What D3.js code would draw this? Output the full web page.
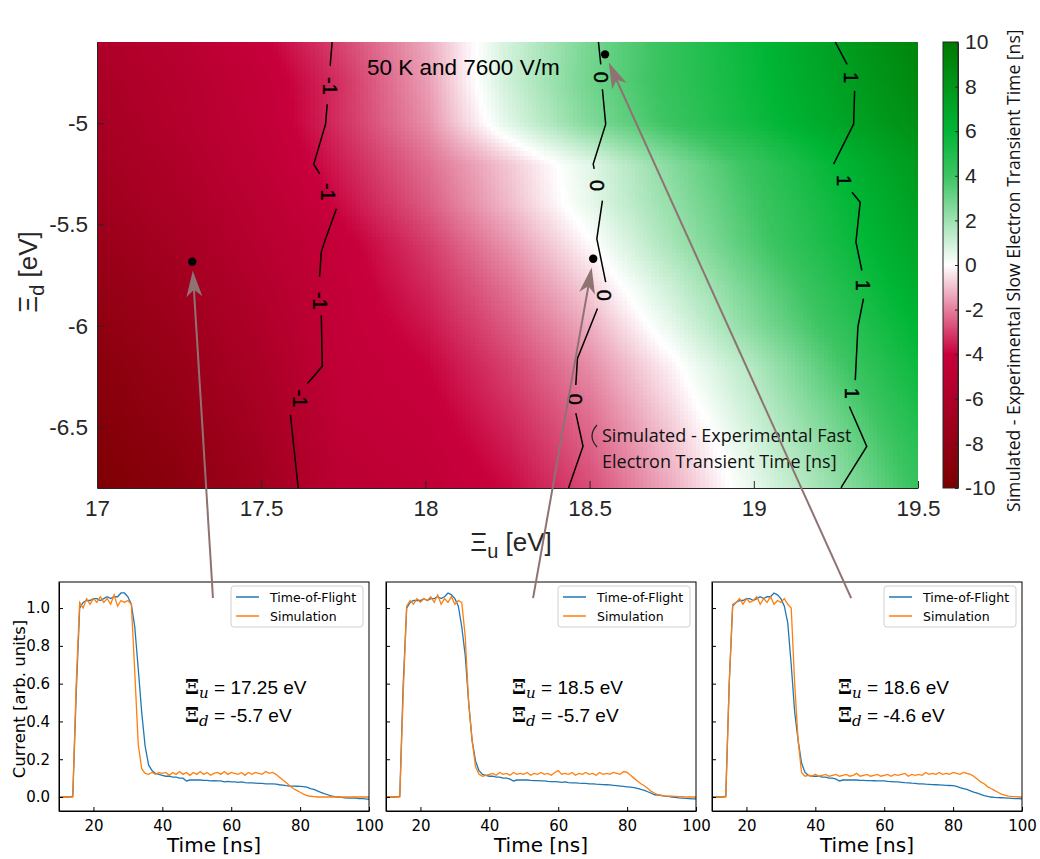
<!DOCTYPE html>
<html lang="en">
  <head>
    <meta charset="utf-8">
    <title>Transient time difference map</title>
    <script src="https://d3js.org/d3.v7.min.js"></script>
    <style>
      body { margin: 0; background: #fff; }
    </style>
  </head>
  <body>
  <script>

// ---- heat map data (simulated - experimental slow electron transient time, ns)
  var xiU = [17, 17.25, 17.5, 17.75, 18, 18.25, 18.5, 18.75, 19, 19.25, 19.5];
  var xiD = [-4.6, -4.8, -5.0, -5.2, -5.4, -5.6, -5.8, -6.0, -6.2, -6.4, -6.6, -6.8];
  var slowDiff = [
    [-6.0, -5.2, -4.1, -2.9, -1.4,  0.9,  2.8,  4.3,  5.8,  7.5,  9.2],
    [-6.3, -5.5, -4.4, -3.2, -1.6,  1.0,  2.9,  4.3,  5.7,  7.3,  8.9],
    [-6.6, -5.6, -4.5, -3.2, -1.8,  0.6,  2.6,  4.1,  5.5,  7.0,  8.5],
    [-6.9, -5.9, -4.7, -3.5, -2.3, -0.9,  0.6,  2.5,  4.2,  6.0,  7.8],
    [-7.2, -6.2, -5.0, -3.8, -2.6, -1.1,  0.5,  2.2,  3.9,  5.6,  7.4],
    [-7.6, -6.6, -5.3, -4.2, -3.1, -1.7, -0.1,  1.8,  3.6,  5.3,  7.0],
    [-8.0, -7.0, -5.6, -4.3, -3.4, -2.2, -0.7,  1.1,  3.0,  4.8,  6.6],
    [-8.4, -7.3, -5.9, -4.4, -3.7, -2.6, -1.3,  0.5,  2.5,  4.3,  6.1],
    [-8.8, -7.7, -6.2, -4.5, -4.0, -3.0, -1.8, -0.2,  1.6,  3.7,  5.6],
    [-9.1, -8.0, -6.5, -4.6, -4.2, -3.3, -2.2, -0.6,  1.2,  3.1,  5.1],
    [-9.4, -8.4, -6.8, -4.8, -4.4, -3.6, -2.5, -1.0,  0.8,  2.6,  4.6],
    [-9.7, -8.7, -7.0, -5.0, -4.6, -3.9, -2.8, -1.3,  0.5,  2.2,  4.2]
  ];

  var uTicks = [17, 17.5, 18, 18.5, 19, 19.5];
  var dTicks = [-6.5, -6, -5.5, -5];
  var cbTicks = [-10, -8, -6, -4, -2, 0, 2, 4, 6, 8, 10];

// fast electron contour lines, split where the inline labels sit
  var contourLines = [
    [[17.716, -4.6], [17.710, -4.718]],
    [[17.701, -4.907], [17.696, -5.005], [17.660, -5.202], [17.678, -5.251]],
    [[17.729, -5.423], [17.693, -5.585], [17.683, -5.635], [17.678, -5.757]],
    [[17.683, -5.948], [17.686, -6.200], [17.641, -6.284]],
    [[17.589, -6.440], [17.612, -6.790], [17.613, -6.8]],

    [[18.527, -4.6], [18.534, -4.710]],
    [[18.539, -4.833], [18.549, -5.005], [18.511, -5.202], [18.514, -5.226]],
    [[18.539, -5.382], [18.522, -5.571], [18.549, -5.784]],
    [[18.524, -5.915], [18.463, -6.161], [18.458, -6.292]],
    [[18.458, -6.431], [18.480, -6.594], [18.438, -6.790], [18.436, -6.8]],

    [[19.248, -4.6], [19.284, -4.710]],
    [[19.307, -4.841], [19.304, -5.005], [19.243, -5.202]],
    [[19.299, -5.341], [19.324, -5.390], [19.311, -5.586], [19.329, -5.727]],
    [[19.334, -5.866], [19.317, -6.005], [19.309, -6.268]],
    [[19.291, -6.398], [19.344, -6.595], [19.268, -6.792], [19.266, -6.8]]
  ];
  var contourLabels = [
    {u: 17.708, d: -4.817, t: "-1"}, {u: 17.702, d: -5.339, t: "-1"},
    {u: 17.678, d: -5.876, t: "-1"}, {u: 17.619, d: -6.358, t: "-1"},
    {u: 18.534, d: -4.774, t: "0"},  {u: 18.524, d: -5.308, t: "0"},
    {u: 18.544, d: -5.849, t: "0"},  {u: 18.456, d: -6.363, t: "0"},
    {u: 19.297, d: -4.775, t: "1"},  {u: 19.274, d: -5.284, t: "1"},
    {u: 19.334, d: -5.800, t: "1"},  {u: 19.299, d: -6.333, t: "1"}
  ];

  var markedPoints = [[17.29, -5.684], [18.511, -5.669], [18.547, -4.661]];

// ---- transient data
  var timeNs = [10, 11, 12, 13, 14, 15, 16, 17, 18, 19,
    20, 21, 22, 23, 24, 25, 26, 27, 28, 29,
    30, 31, 32, 33, 34, 35, 36, 37, 38, 39,
    40, 41, 42, 43, 44, 45, 46, 47, 48, 49,
    50, 51, 52, 53, 54, 55, 56, 57, 58, 59,
    60, 61, 62, 63, 64, 65, 66, 67, 68, 69,
    70, 71, 72, 73, 74, 75, 76, 77, 78, 79,
    80, 81, 82, 83, 84, 85, 86, 87, 88, 89,
    90, 91, 92, 93, 94, 95, 96, 97, 98, 99,
    100];

  var tof1 = [0, 0, 0, 0, 0.005, 0.55, 1.0, 1.03, 1.04, 1.04,
    1.05, 1.05, 1.04, 1.05, 1.06, 1.05, 1.06, 1.06, 1.08, 1.08,
    1.06, 1.02, 0.9, 0.68, 0.45, 0.27, 0.17, 0.14, 0.125, 0.12,
    0.115, 0.11, 0.11, 0.105, 0.105, 0.1, 0.1, 0.085, 0.09, 0.09,
    0.09, 0.09, 0.088, 0.088, 0.085, 0.087, 0.085, 0.085, 0.08, 0.083,
    0.08, 0.08, 0.078, 0.08, 0.076, 0.075, 0.075, 0.074, 0.072, 0.072,
    0.07, 0.07, 0.07, 0.068, 0.065, 0.063, 0.06, 0.058, 0.058, 0.057,
    0.056, 0.055, 0.052, 0.045, 0.04, 0.033, 0.025, 0.018, 0.012, 0.006,
    0.002, 0, -0.002, -0.004, -0.006, -0.006, -0.005, -0.008, -0.008, -0.01,
    -0.012];
  var sim1 = [0, 0, 0, 0, 0, 0.6, 1.03, 1.0, 1.05, 1.02,
    1.05, 1.03, 1.06, 1.03, 1.05, 1.02, 1.07, 1.01, 1.04, 1.03,
    1.04, 1.02, 0.66, 0.28, 0.15, 0.125, 0.12, 0.13, 0.12, 0.13,
    0.125, 0.13, 0.115, 0.13, 0.12, 0.135, 0.12, 0.13, 0.115, 0.13,
    0.12, 0.135, 0.12, 0.13, 0.115, 0.125, 0.13, 0.12, 0.135, 0.12,
    0.13, 0.125, 0.12, 0.13, 0.115, 0.13, 0.12, 0.13, 0.125, 0.12,
    0.135, 0.125, 0.13, 0.12, 0.105, 0.09, 0.075, 0.06, 0.045, 0.035,
    0.025, 0.015, 0.008, 0.004, 0.002, 0, 0, 0, 0, 0,
    0, 0, 0, 0, 0, 0, 0, 0, 0, 0,
    0];
  var tof2 = [0, 0, 0, 0, 0.005, 0.6, 1.0, 1.03, 1.04, 1.04,
    1.04, 1.05, 1.04, 1.05, 1.05, 1.06, 1.05, 1.06, 1.08, 1.07,
    1.05, 1.01, 0.9, 0.75, 0.5, 0.3, 0.19, 0.14, 0.12, 0.115,
    0.11, 0.11, 0.105, 0.105, 0.1, 0.1, 0.095, 0.085, 0.09, 0.09,
    0.09, 0.09, 0.088, 0.087, 0.087, 0.085, 0.085, 0.083, 0.082, 0.082,
    0.08, 0.078, 0.08, 0.076, 0.075, 0.075, 0.073, 0.072, 0.072, 0.07,
    0.07, 0.068, 0.067, 0.066, 0.065, 0.064, 0.062, 0.06, 0.058, 0.056,
    0.054, 0.052, 0.05, 0.046, 0.04, 0.035, 0.028, 0.02, 0.012, 0.01,
    0.008, 0.005, 0.003, 0, -0.002, -0.005, -0.006, -0.007, -0.008, -0.01,
    -0.01];
  var sim2 = [0, 0, 0, 0, 0, 0.55, 1.01, 1.04, 1.02, 1.05,
    1.03, 1.05, 1.04, 1.06, 1.03, 1.07, 1.02, 1.05, 1.03, 1.06,
    1.02, 1.04, 1.03, 0.85, 0.5, 0.3, 0.16, 0.12, 0.11, 0.115,
    0.12, 0.125, 0.115, 0.13, 0.12, 0.125, 0.115, 0.13, 0.12, 0.125,
    0.12, 0.13, 0.115, 0.125, 0.12, 0.13, 0.12, 0.125, 0.115, 0.13,
    0.14, 0.12, 0.125, 0.12, 0.13, 0.115, 0.125, 0.12, 0.13, 0.12,
    0.125, 0.115, 0.13, 0.12, 0.125, 0.12, 0.13, 0.125, 0.12, 0.135,
    0.13, 0.115, 0.1, 0.085, 0.07, 0.06, 0.045, 0.03, 0.02, 0.012,
    0.008, 0.006, 0.005, 0.004, 0.003, 0.002, 0.002, 0.001, 0, 0,
    0];
  var tof3 = [0, 0, 0, 0, 0.005, 0.6, 1.01, 1.03, 1.04, 1.04,
    1.05, 1.05, 1.04, 1.05, 1.06, 1.05, 1.06, 1.06, 1.08, 1.07,
    1.05, 1.01, 0.92, 0.7, 0.45, 0.3, 0.18, 0.13, 0.115, 0.11,
    0.11, 0.11, 0.105, 0.105, 0.1, 0.1, 0.095, 0.085, 0.09, 0.09,
    0.09, 0.09, 0.09, 0.088, 0.088, 0.087, 0.087, 0.086, 0.085, 0.085,
    0.085, 0.083, 0.082, 0.08, 0.08, 0.078, 0.076, 0.075, 0.073, 0.072,
    0.07, 0.07, 0.068, 0.067, 0.066, 0.065, 0.064, 0.063, 0.062, 0.061,
    0.06, 0.056, 0.05, 0.045, 0.04, 0.033, 0.026, 0.02, 0.014, 0.008,
    0.003, 0, -0.002, -0.003, -0.004, -0.005, -0.006, -0.007, -0.008, -0.009,
    -0.01];
  var sim3 = [0, 0, 0, 0, 0, 0.6, 1.02, 1.03, 1.05, 1.02,
    1.05, 1.03, 1.04, 1.06, 1.02, 1.05, 1.03, 1.06, 1.02, 1.04,
    1.03, 1.05, 1.02, 1.0, 0.6, 0.3, 0.13, 0.11, 0.115, 0.11,
    0.12, 0.11, 0.115, 0.12, 0.11, 0.115, 0.12, 0.11, 0.115, 0.12,
    0.11, 0.115, 0.125, 0.11, 0.115, 0.12, 0.11, 0.115, 0.12, 0.11,
    0.115, 0.12, 0.11, 0.12, 0.115, 0.12, 0.125, 0.11, 0.12, 0.115,
    0.12, 0.115, 0.13, 0.12, 0.125, 0.12, 0.13, 0.12, 0.125, 0.12,
    0.13, 0.125, 0.12, 0.13, 0.125, 0.12, 0.11, 0.095, 0.08, 0.07,
    0.055, 0.045, 0.035, 0.025, 0.015, 0.01, 0.005, 0.003, 0.002, 0,
    0];

  var panelTof = [tof1, tof2, tof3];
  var panelSim = [sim1, sim2, sim3];
  var panelXiU = ["17.25", "18.5", "18.6"];
  var panelXiD = ["-5.7", "-5.7", "-4.6"];
  var timeTicks = [20, 40, 60, 80, 100];
  var currentTicks = [0, 0.2, 0.4, 0.6, 0.8, 1.0];
  // where each arrow leaves its panel (time, current)
  var arrowStarts = [[54.7, 1.053], [52.7, 1.053], [50.4, 1.053]];

  var matlabFont = "'Liberation Sans', Arial, sans-serif";
  var mplFont = "'DejaVu Sans', sans-serif";
  var noteFont = "'Open Sans', 'Noto Sans', sans-serif";

  var svg = d3.select("body")
    .append("svg")
      .attr("width", 1040)
      .attr("height", 859);

// ---- heat map
  var hx = d3.scaleLinear().domain([17, 19.5]).range([97, 918]);
  var hy = d3.scaleLinear().domain([-6.8, -4.6]).range([488, 42]);
  var color = d3.scaleLinear()
      .domain([-10, -4, 0, 4, 6, 10])
      .range(["#7a0000", "#c8003c", "#ffffff", "#3cc462", "#00b635", "#007800"])
      .clamp(true);

  svg.append("defs").append("clipPath").attr("id", "plotclip")
    .append("rect").attr("x", 97).attr("y", 42).attr("width", 821).attr("height", 446);

  // interp shading: each grid cell is split into small patches
  var nSubU = 20, nSubD = 10;
  var cells = [];
  for (var r = 0; r < xiD.length - 1; r++) {
    for (var c = 0; c < xiU.length - 1; c++) {
      var v00 = slowDiff[r][c], v01 = slowDiff[r][c + 1];
      var v10 = slowDiff[r + 1][c], v11 = slowDiff[r + 1][c + 1];
      for (var a = 0; a < nSubU; a++) {
        for (var b = 0; b < nSubD; b++) {
          var fu = (a + 0.5) / nSubU, fd = (b + 0.5) / nSubD;
          cells.push({
            u0: xiU[c] + (xiU[c + 1] - xiU[c]) * a / nSubU,
            u1: xiU[c] + (xiU[c + 1] - xiU[c]) * (a + 1) / nSubU,
            d0: xiD[r] + (xiD[r + 1] - xiD[r]) * b / nSubD,
            d1: xiD[r] + (xiD[r + 1] - xiD[r]) * (b + 1) / nSubD,
            v: v00 * (1 - fu) * (1 - fd) + v01 * fu * (1 - fd) + v10 * (1 - fu) * fd + v11 * fu * fd
          });
        }
      }
    }
  }

  svg.append("g")
      .attr("clip-path", "url(#plotclip)")
      .attr("shape-rendering", "crispEdges")
    .selectAll("rect")
    .data(cells)
    .enter().append("rect")
      .attr("x", d => hx(d.u0))
      .attr("y", d => hy(d.d0))
      .attr("width", d => hx(d.u1) - hx(d.u0) + 0.6)
      .attr("height", d => hy(d.d1) - hy(d.d0) + 0.6)
      .attr("fill", d => color(d.v));

  var cline = d3.line().x(p => hx(p[0])).y(p => hy(p[1]));
  svg.append("g").selectAll("path")
    .data(contourLines)
    .enter().append("path")
      .attr("d", cline)
      .attr("fill", "none")
      .attr("stroke", "#000")
      .attr("stroke-width", 1.5);

  svg.append("g").selectAll("text")
    .data(contourLabels)
    .enter().append("text")
      .attr("transform", d => "translate(" + hx(d.u) + "," + hy(d.d) + ") rotate(90)")
      .attr("text-anchor", "middle")
      .attr("dominant-baseline", "central")
      .attr("font-family", matlabFont)
      .attr("font-size", 20)
      .attr("stroke", "#000")
      .attr("stroke-width", 0.4)
      .text(d => d.t);

  svg.append("text")
      .attr("x", 367).attr("y", 75)
      .attr("font-family", matlabFont)
      .attr("font-size", 22.5)
      .text("50 K and 7600 V/m");

  svg.append("path")
      .attr("d", "M597,425 Q587,436 597,447")
      .attr("fill", "none").attr("stroke", "#222").attr("stroke-width", 1.2);
  var note = svg.append("text")
      .attr("font-family", noteFont)
      .attr("font-size", 18)
      .attr("fill", "#111");
  note.append("tspan").attr("x", 602).attr("y", 442).text("Simulated - Experimental Fast");
  note.append("tspan").attr("x", 602).attr("y", 468).text("Electron Transient Time [ns]");

  svg.append("g").selectAll("circle")
    .data(markedPoints)
    .enter().append("circle")
      .attr("cx", d => hx(d[0]))
      .attr("cy", d => hy(d[1]))
      .attr("r", 4.2)
      .attr("fill", "#000");

  var gx = svg.append("g")
      .attr("transform", "translate(0,488)")
      .call(d3.axisBottom(hx).tickValues(uTicks).tickFormat(d => String(d))
        .tickSizeInner(-7).tickSizeOuter(0).tickPadding(12));
  var gy = svg.append("g")
      .attr("transform", "translate(97,0)")
      .call(d3.axisLeft(hy).tickValues(dTicks).tickFormat(d => String(d))
        .tickSizeInner(-7).tickSizeOuter(0).tickPadding(9));
  [gx, gy].forEach(g => {
    g.attr("font-family", matlabFont).attr("font-size", 22.5).attr("color", "#262626");
  });

  var xl = svg.append("text")
      .attr("x", 511).attr("y", 551)
      .attr("text-anchor", "middle")
      .attr("font-family", matlabFont)
      .attr("font-size", 26)
      .attr("fill", "#262626");
  xl.append("tspan").text("\u039E");
  xl.append("tspan").attr("dy", 7).attr("font-size", 20).text("u");
  xl.append("tspan").attr("dy", -7).text(" [eV]");

  var yl = svg.append("text")
      .attr("transform", "translate(37,272) rotate(-90)")
      .attr("text-anchor", "middle")
      .attr("font-family", matlabFont)
      .attr("font-size", 26)
      .attr("fill", "#262626");
  yl.append("tspan").text("\u039E");
  yl.append("tspan").attr("dy", 7).attr("font-size", 20).text("d");
  yl.append("tspan").attr("dy", -7).text(" [eV]");

// ---- colour bar
  var cy = d3.scaleLinear().domain([-10, 10]).range([488, 42]);
  var grad = svg.select("defs").append("linearGradient")
      .attr("id", "cbgrad")
      .attr("x1", 0).attr("y1", 1).attr("x2", 0).attr("y2", 0);
  grad.selectAll("stop")
    .data(color.domain())
    .enter().append("stop")
      .attr("offset", d => (d + 10) / 20)
      .attr("stop-color", d => color(d));
  svg.append("rect")
      .attr("x", 943).attr("y", cy(10))
      .attr("width", 15).attr("height", cy(-10) - cy(10))
      .attr("fill", "url(#cbgrad)")
      .attr("stroke", "#262626").attr("stroke-width", 1);
  var gc = svg.append("g")
      .attr("transform", "translate(958,0)")
      .call(d3.axisRight(cy).tickValues(cbTicks).tickFormat(d => String(d))
        .tickSizeInner(-3).tickSizeOuter(0).tickPadding(7));
  gc.attr("font-family", matlabFont).attr("font-size", 21).attr("color", "#262626");

  svg.append("text")
      .attr("transform", "translate(1020,512) rotate(-90)")
      .attr("font-family", noteFont)
      .attr("font-size", 17.6)
      .attr("fill", "#111")
      .text("Simulated - Experimental Slow Electron Transient Time [ns]");

// ---- transient panels
  var panelLeft = [59, 386, 712];
  var panelW = 310;
  var py = d3.scaleLinear().domain([-0.074, 1.138]).range([811, 582]);
  var panelX = [];

  panelLeft.forEach((x0, k) => {
    var px = d3.scaleLinear().domain([10, 100]).range([x0, x0 + panelW]);
    panelX.push(px);
    var g = svg.append("g");

    var line = d3.line().x((d, i) => px(timeNs[i])).y(d => py(d));
    g.append("path").attr("d", line(panelTof[k]))
      .attr("fill", "none").attr("stroke", "#1f77b4").attr("stroke-width", 1.3);
    g.append("path").attr("d", line(panelSim[k]))
      .attr("fill", "none").attr("stroke", "#ff7f0e").attr("stroke-width", 1.3);

    g.append("rect")
      .attr("x", x0).attr("y", 582).attr("width", panelW).attr("height", 229)
      .attr("fill", "none").attr("stroke", "#000").attr("stroke-width", 1);

    var ax = g.append("g").attr("transform", "translate(0,811)")
      .call(d3.axisBottom(px).tickValues(timeTicks).tickSizeInner(-4).tickSizeOuter(0).tickPadding(9));
    var ay = g.append("g").attr("transform", "translate(" + x0 + ",0)")
      .call(d3.axisLeft(py).tickValues(currentTicks)
        .tickFormat(k === 0 ? d3.format(".1f") : () => "")
        .tickSizeInner(-4).tickSizeOuter(0).tickPadding(9));
    [ax, ay].forEach(a => a.attr("font-family", mplFont).attr("font-size", 15).attr("color", "#000"));

    g.append("text")
      .attr("x", x0 + panelW / 2).attr("y", 852)
      .attr("text-anchor", "middle")
      .attr("font-family", mplFont).attr("font-size", 20)
      .text("Time [ns]");

    // legend
    var lx = x0 + panelW - 138, ly = 586;
    g.append("rect")
      .attr("x", lx).attr("y", ly).attr("width", 132).attr("height", 41).attr("rx", 3)
      .attr("fill", "#fff").attr("fill-opacity", 0.8)
      .attr("stroke", "#d0d0d0").attr("stroke-width", 1);
    [["Time-of-Flight", "#1f77b4"], ["Simulation", "#ff7f0e"]].forEach((e, i) => {
      var yy = ly + 11 + i * 19;
      g.append("line").attr("x1", lx + 5).attr("x2", lx + 28).attr("y1", yy).attr("y2", yy)
        .attr("stroke", e[1]).attr("stroke-width", 1.5);
      g.append("text").attr("x", lx + 39).attr("y", yy + 4.5)
        .attr("font-family", mplFont).attr("font-size", 12.5).text(e[0]);
    });

    // parameters
    [["u", panelXiU[k], 694], ["d", panelXiD[k], 722]].forEach(p => {
      var t = g.append("text").attr("x", x0 + 126).attr("y", p[2]);
      t.append("tspan").attr("font-family", "'DejaVu Serif', serif").attr("font-weight", "bold")
        .attr("font-size", 20).text("\u039E");
      t.append("tspan").attr("font-family", "'DejaVu Serif', serif").attr("font-style", "italic")
        .attr("font-size", 15).attr("dy", 4).text(p[0]);
      t.append("tspan").attr("font-family", matlabFont).attr("font-size", 19).attr("dy", -4)
        .text(" = " + p[1] + " eV");
    });
  });

  svg.append("text")
      .attr("transform", "translate(25,699) rotate(-90)")
      .attr("text-anchor", "middle")
      .attr("font-family", mplFont).attr("font-size", 16.5)
      .text("Current [arb. units]");

// ---- arrows from panels to marked points
  var arrowColor = "#8f7373";
  arrowStarts.forEach((s, k) => {
    var x1 = panelX[k](s[0]), y1 = py(s[1]);
    var x2 = hx(markedPoints[k][0]), y2 = hy(markedPoints[k][1]);
    var dx = x2 - x1, dy = y2 - y1, len = Math.sqrt(dx * dx + dy * dy);
    var ux = dx / len, uy = dy / len, nx = -uy, ny = ux;
    var tx = x2 - ux * 9, ty = y2 - uy * 9;
    svg.append("line")
      .attr("x1", x1).attr("y1", y1)
      .attr("x2", tx - ux * 18).attr("y2", ty - uy * 18)
      .attr("stroke", arrowColor).attr("stroke-width", 2);
    var L = 26, W = 8, N = 19;
    svg.append("path")
      .attr("d", "M" + tx + "," + ty +
        "L" + (tx - ux * L + nx * W) + "," + (ty - uy * L + ny * W) +
        "L" + (tx - ux * N) + "," + (ty - uy * N) +
        "L" + (tx - ux * L - nx * W) + "," + (ty - uy * L - ny * W) + "Z")
      .attr("fill", arrowColor);
  });

    </script>
  </body>
</html>
